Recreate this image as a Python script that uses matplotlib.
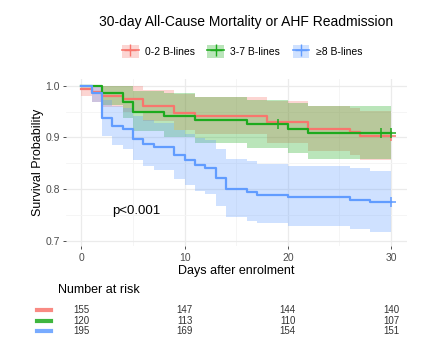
import matplotlib
matplotlib.use("Agg")
import matplotlib.pyplot as plt
from matplotlib.patches import Patch
from matplotlib.lines import Line2D
from matplotlib.legend_handler import HandlerTuple
import numpy as np

plt.rcParams['font.family'] = ['Liberation Sans', 'DejaVu Sans']

groups = ["0-2 B-lines", "3-7 B-lines", "\u22658 B-lines"]
colors = ["#F8766D", "#1DAA1D", "#619CFF"]

# Group 0-2 B-lines
t_red = [0, 1, 2, 4, 6, 9, 11, 18, 22, 26, 27]
s_red = [0.994, 0.987, 0.981, 0.974, 0.961, 0.948, 0.942, 0.929, 0.916, 0.910, 0.903]
lo_red = [0.981, 0.969, 0.959, 0.949, 0.931, 0.914, 0.906, 0.889, 0.873, 0.866, 0.857]
hi_red = [1.0, 1.0, 1.0, 0.999, 0.992, 0.984, 0.979, 0.970, 0.961, 0.956, 0.951]
c_red = [30]

# Group 3-7 B-lines
t_grn = [0, 2, 4, 5, 8, 11, 16, 20, 22]
s_grn = [1.0, 0.985, 0.969, 0.950, 0.942, 0.933, 0.925, 0.917, 0.908]
lo_grn = [1.0, 0.963, 0.938, 0.912, 0.901, 0.889, 0.879, 0.869, 0.858]
hi_grn = [1.0, 1.0, 0.999, 0.990, 0.985, 0.979, 0.973, 0.967, 0.961]
c_grn = [19, 29, 30]

# Group >=8 B-lines
t_blu = [0, 1, 2, 3, 4, 5, 6, 7, 9, 10, 11, 12, 13, 14, 16, 17, 20, 26, 28]
s_blu = [1.0, 0.985, 0.937, 0.922, 0.916, 0.897, 0.887, 0.881, 0.866, 0.856,
         0.846, 0.841, 0.821, 0.800, 0.794, 0.789, 0.784, 0.779, 0.774]
lo_blu = [1.0, 0.968, 0.903, 0.885, 0.878, 0.856, 0.844, 0.837, 0.820, 0.808,
          0.797, 0.791, 0.768, 0.746, 0.739, 0.734, 0.728, 0.723, 0.717]
hi_blu = [1.0, 1.0, 0.972, 0.960, 0.956, 0.941, 0.933, 0.928, 0.915, 0.906,
          0.898, 0.894, 0.877, 0.859, 0.854, 0.849, 0.845, 0.840, 0.835]
c_blu = [30]

risk_times = [0, 10, 20, 30]
risk_red = [155, 147, 144, 140]
risk_grn = [120, 113, 110, 107]
risk_blu = [195, 169, 154, 151]

END = 30

W, H = 440, 357
fig = plt.figure(figsize=(W / 100, H / 100), dpi=100)
ax = fig.add_axes([66 / W, 1 - 246.4 / H, (406.5 - 66) / W, (246.4 - 78.5) / H])

series = [
    (t_red, s_red, lo_red, hi_red, c_red),
    (t_grn, s_grn, lo_grn, hi_grn, c_grn),
    (t_blu, s_blu, lo_blu, hi_blu, c_blu),
]

for (t, s, lo, hi, cens), col in zip(series, colors):
    tt = list(t) + [END]
    ll = list(lo) + [lo[-1]]
    hh = list(hi) + [hi[-1]]
    ax.fill_between(tt, ll, hh, step='post', color=col, alpha=0.3, linewidth=0, zorder=1)

for (t, s, lo, hi, cens), col in zip(series, colors):
    tt = list(t) + [END]
    ss = list(s) + [s[-1]]
    ax.step(tt, ss, where='post', color=col, lw=1.6, zorder=3)
    cy = [s[np.searchsorted(t, c, side='right') - 1] for c in cens]
    ax.plot(cens, cy, linestyle='none', marker='+', markersize=7, mew=1.1,
            color=col, zorder=4)

ax.set_xlim(-1.5, 31.5)
ax.set_ylim(0.689, 1.014)
ax.set_xticks([0, 10, 20, 30])
ax.set_yticks([0.7, 0.8, 0.9, 1.0])
ax.set_yticklabels(["0.7", "0.8", "0.9", "1.0"])
ax.set_xticks([5, 15, 25], minor=True)
ax.set_yticks([0.75, 0.85, 0.95], minor=True)
ax.grid(which='major', color='#EBEBEB', lw=0.9, zorder=0)
ax.grid(which='minor', color='#F4F4F4', lw=0.6, zorder=0)
ax.set_axisbelow(True)
for sp in ax.spines.values():
    sp.set_visible(False)
ax.tick_params(which='major', length=2.5, width=0.6, color='#333333',
               labelcolor='#4D4D4D', labelsize=7.5, pad=2)
ax.tick_params(which='minor', length=0)
ax.set_xlabel("Days after enrolment", fontsize=9, color='black', labelpad=2)
ax.set_ylabel("Survival Probability", fontsize=9, color='black', labelpad=1)

ax.text(3.0, 0.757, "p<0.001", fontsize=9.5, va='center', ha='left')

fig.text(246 / W, 1 - 21.7 / H, "30-day All-Cause Mortality or AHF Readmission",
         ha='center', va='center', fontsize=10)

handles = []
for col in colors:
    handles.append((Patch(facecolor=col, alpha=0.3, edgecolor='none'),
                    Line2D([], [], color=col, lw=1.2, marker='+', markersize=8, mew=1.0)))
leg = fig.legend(handles, groups, loc='center', bbox_to_anchor=(242 / W, 1 - 51.5 / H),
                 ncol=3, frameon=False, fontsize=7.5, handlelength=1.6, handleheight=1.6,
                 handletextpad=0.6, columnspacing=1.2,
                 handler_map={tuple: HandlerTuple(ndivide=1, pad=0)})

# Number at risk table
fig.text(58 / W, 1 - 290 / H, "Number at risk", fontsize=9, va='center', ha='left')
row_y = [310, 320.5, 331]
risks = [risk_red, risk_grn, risk_blu]
for ry, rv, col in zip(row_y, risks, colors):
    fig.add_artist(Line2D([37 / W, 51 / W], [1 - ry / H, 1 - ry / H], color=col,
                          lw=3, alpha=0.85, transform=fig.transFigure))
    for tx, v in zip(risk_times, rv):
        xf = ax.transData.transform((tx, 0))[0]
        xfig = fig.transFigure.inverted().transform((xf, 0))[0]
        fig.text(xfig, 1 - ry / H, str(v), fontsize=7, ha='center', va='center',
                 color='#333333')

fig.savefig("out.png", dpi=100)
